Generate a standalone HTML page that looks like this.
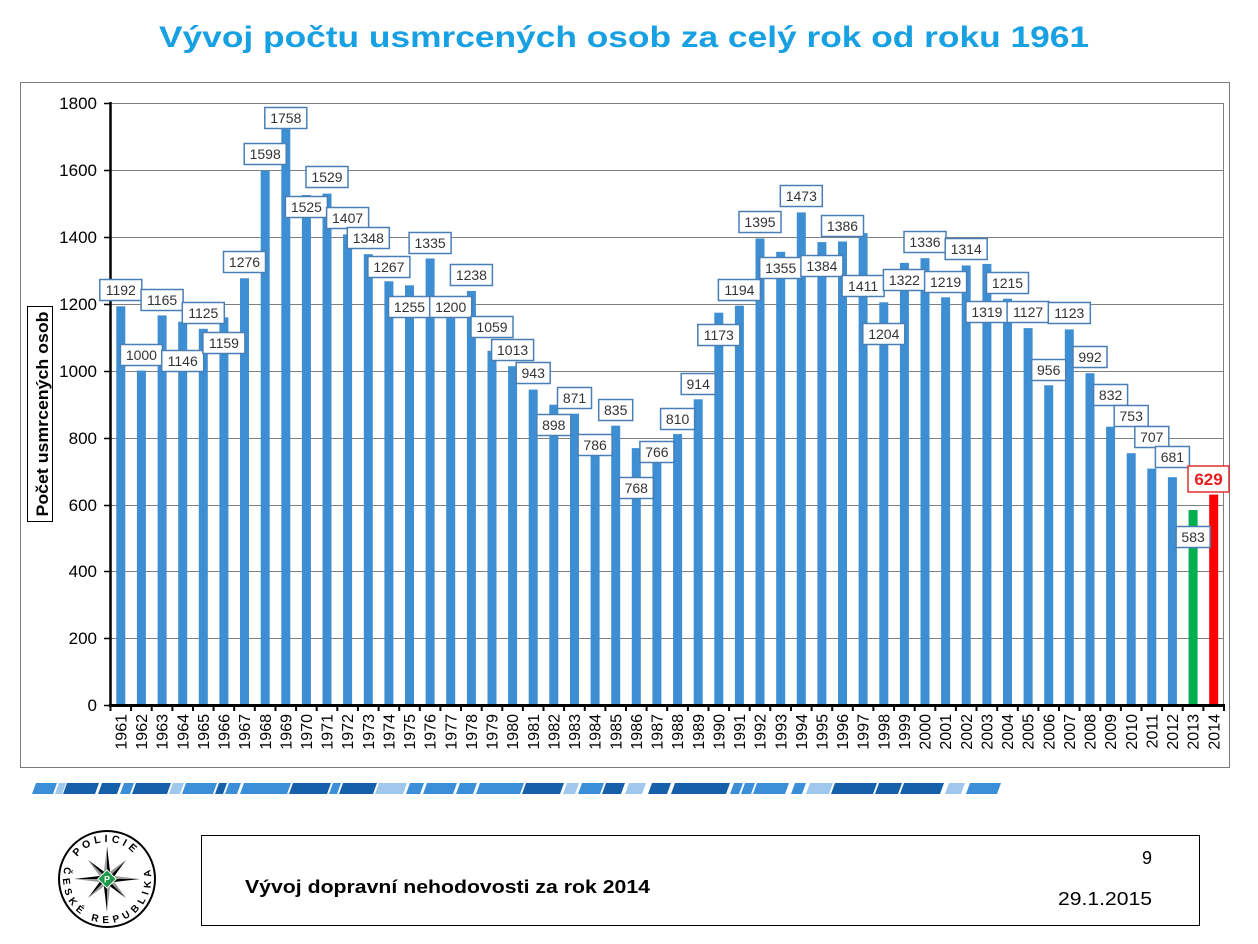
<!DOCTYPE html>
<html>
<head>
<meta charset="utf-8">
<style>
html,body{margin:0;padding:0;background:#fff;}
svg{display:block;}
text{font-family:"Liberation Sans",Arial,sans-serif;}
</style>
</head>
<body>
<svg width="1258" height="944" viewBox="0 0 1258 944" xmlns="http://www.w3.org/2000/svg">
<rect x="0" y="0" width="1258" height="944" fill="#fff"/>

<!-- Title -->
<text x="159" y="47" font-size="30" font-weight="bold" fill="#17a0e2" textLength="930" lengthAdjust="spacingAndGlyphs">Vývoj počtu usmrcených osob za celý rok od roku 1961</text>

<!-- Chart box -->
<rect x="20.5" y="82.5" width="1209" height="685" fill="#fff" stroke="#7a7a7a" stroke-width="1"/>

<!-- gridlines -->
<g stroke="#7f7f7f" stroke-width="1">
<line x1="110" y1="103.5" x2="1224" y2="103.5"/>
<line x1="110" y1="170.5" x2="1224" y2="170.5"/>
<line x1="110" y1="237.5" x2="1224" y2="237.5"/>
<line x1="110" y1="304.5" x2="1224" y2="304.5"/>
<line x1="110" y1="371.5" x2="1224" y2="371.5"/>
<line x1="110" y1="438.5" x2="1224" y2="438.5"/>
<line x1="110" y1="505.5" x2="1224" y2="505.5"/>
<line x1="110" y1="571.5" x2="1224" y2="571.5"/>
<line x1="110" y1="638.5" x2="1224" y2="638.5"/>
<line x1="1223.5" y1="103" x2="1223.5" y2="705"/>
</g>

<!-- Y axis label -->
<rect x="27.5" y="306.5" width="25" height="215" fill="#fff" stroke="#000" stroke-width="1"/>
<text transform="translate(48,414) rotate(-90)" text-anchor="middle" font-size="17" font-weight="bold" fill="#000" textLength="205" lengthAdjust="spacingAndGlyphs">Počet usmrcených osob</text>

<!-- Y tick labels -->
<g font-size="17" fill="#000" text-anchor="end">
<text x="97" y="109">1800</text>
<text x="97" y="176">1600</text>
<text x="97" y="243">1400</text>
<text x="97" y="310">1200</text>
<text x="97" y="377">1000</text>
<text x="97" y="444">800</text>
<text x="97" y="511">600</text>
<text x="97" y="577">400</text>
<text x="97" y="644">200</text>
<text x="97" y="711">0</text>
</g>

<!-- Bars -->
<g fill="#3e8ed3">
<rect x="116.3" y="306.3" width="9" height="398.7"/>
<rect x="136.9" y="370.6" width="9" height="334.4"/>
<rect x="157.6" y="315.4" width="9" height="389.6"/>
<rect x="178.2" y="321.7" width="9" height="383.3"/>
<rect x="198.8" y="328.8" width="9" height="376.2"/>
<rect x="219.4" y="317.4" width="9" height="387.6"/>
<rect x="240.0" y="278.3" width="9" height="426.7"/>
<rect x="260.7" y="170.6" width="9" height="534.4"/>
<rect x="281.3" y="117.0" width="9" height="588.0"/>
<rect x="301.9" y="195.0" width="9" height="510.0"/>
<rect x="322.5" y="193.6" width="9" height="511.4"/>
<rect x="343.1" y="234.4" width="9" height="470.6"/>
<rect x="363.8" y="254.2" width="9" height="450.8"/>
<rect x="384.4" y="281.3" width="9" height="423.7"/>
<rect x="405.0" y="285.3" width="9" height="419.7"/>
<rect x="425.6" y="258.5" width="9" height="446.5"/>
<rect x="446.2" y="303.7" width="9" height="401.3"/>
<rect x="466.9" y="291.0" width="9" height="414.0"/>
<rect x="487.5" y="350.8" width="9" height="354.2"/>
<rect x="508.1" y="366.2" width="9" height="338.8"/>
<rect x="528.7" y="389.6" width="9" height="315.4"/>
<rect x="549.3" y="404.7" width="9" height="300.3"/>
<rect x="570.0" y="413.7" width="9" height="291.3"/>
<rect x="590.6" y="442.1" width="9" height="262.9"/>
<rect x="611.2" y="425.7" width="9" height="279.3"/>
<rect x="631.8" y="448.1" width="9" height="256.9"/>
<rect x="652.4" y="448.8" width="9" height="256.2"/>
<rect x="673.1" y="434.1" width="9" height="270.9"/>
<rect x="693.7" y="399.3" width="9" height="305.7"/>
<rect x="714.3" y="312.7" width="9" height="392.3"/>
<rect x="734.9" y="305.7" width="9" height="399.3"/>
<rect x="755.5" y="238.5" width="9" height="466.5"/>
<rect x="776.2" y="251.8" width="9" height="453.2"/>
<rect x="796.8" y="212.4" width="9" height="492.6"/>
<rect x="817.4" y="242.1" width="9" height="462.9"/>
<rect x="838.0" y="241.5" width="9" height="463.5"/>
<rect x="858.6" y="233.1" width="9" height="471.9"/>
<rect x="879.3" y="302.3" width="9" height="402.7"/>
<rect x="899.9" y="262.9" width="9" height="442.1"/>
<rect x="920.5" y="258.2" width="9" height="446.8"/>
<rect x="941.1" y="297.3" width="9" height="407.7"/>
<rect x="961.7" y="265.5" width="9" height="439.5"/>
<rect x="982.4" y="263.9" width="9" height="441.1"/>
<rect x="1003.0" y="298.7" width="9" height="406.3"/>
<rect x="1023.6" y="328.1" width="9" height="376.9"/>
<rect x="1044.2" y="385.3" width="9" height="319.7"/>
<rect x="1064.8" y="329.4" width="9" height="375.6"/>
<rect x="1085.5" y="373.2" width="9" height="331.8"/>
<rect x="1106.1" y="426.7" width="9" height="278.3"/>
<rect x="1126.7" y="453.2" width="9" height="251.8"/>
<rect x="1147.3" y="468.6" width="9" height="236.4"/>
<rect x="1167.9" y="477.2" width="9" height="227.8"/>
</g>
<rect x="1188.6" y="510.0" width="9" height="195.0" fill="#00b050"/>
<rect x="1209.2" y="494.6" width="9" height="210.4" fill="#ff0000"/>

<!-- Axes -->
<line x1="110.5" y1="102" x2="110.5" y2="707" stroke="#000" stroke-width="2.5"/>
<path d="M104 103.5H110M104 170.5H110M104 237.5H110M104 304.5H110M104 371.5H110M104 438.5H110M104 505.5H110M104 571.5H110M104 638.5H110M104 705.5H110" stroke="#000" stroke-width="1.5"/>
<line x1="109" y1="705.5" x2="1225" y2="705.5" stroke="#000" stroke-width="3"/>
<path stroke="#000" stroke-width="2" d="M110.5 705V711M131.1 705V711M151.7 705V711M172.4 705V711M193.0 705V711M213.6 705V711M234.2 705V711M254.8 705V711M275.5 705V711M296.1 705V711M316.7 705V711M337.3 705V711M357.9 705V711M378.6 705V711M399.2 705V711M419.8 705V711M440.4 705V711M461.0 705V711M481.7 705V711M502.3 705V711M522.9 705V711M543.5 705V711M564.1 705V711M584.8 705V711M605.4 705V711M626.0 705V711M646.6 705V711M667.2 705V711M687.9 705V711M708.5 705V711M729.1 705V711M749.7 705V711M770.3 705V711M791.0 705V711M811.6 705V711M832.2 705V711M852.8 705V711M873.4 705V711M894.1 705V711M914.7 705V711M935.3 705V711M955.9 705V711M976.5 705V711M997.2 705V711M1017.8 705V711M1038.4 705V711M1059.0 705V711M1079.6 705V711M1100.3 705V711M1120.9 705V711M1141.5 705V711M1162.1 705V711M1182.7 705V711M1203.4 705V711M1224.0 705V711"/>

<!-- Year labels -->
<g font-size="16" fill="#000" text-anchor="end">
<text transform="translate(120.8,714) rotate(-90)" dy="0.35em">1961</text>
<text transform="translate(141.4,714) rotate(-90)" dy="0.35em">1962</text>
<text transform="translate(162.1,714) rotate(-90)" dy="0.35em">1963</text>
<text transform="translate(182.7,714) rotate(-90)" dy="0.35em">1964</text>
<text transform="translate(203.3,714) rotate(-90)" dy="0.35em">1965</text>
<text transform="translate(223.9,714) rotate(-90)" dy="0.35em">1966</text>
<text transform="translate(244.5,714) rotate(-90)" dy="0.35em">1967</text>
<text transform="translate(265.2,714) rotate(-90)" dy="0.35em">1968</text>
<text transform="translate(285.8,714) rotate(-90)" dy="0.35em">1969</text>
<text transform="translate(306.4,714) rotate(-90)" dy="0.35em">1970</text>
<text transform="translate(327.0,714) rotate(-90)" dy="0.35em">1971</text>
<text transform="translate(347.6,714) rotate(-90)" dy="0.35em">1972</text>
<text transform="translate(368.3,714) rotate(-90)" dy="0.35em">1973</text>
<text transform="translate(388.9,714) rotate(-90)" dy="0.35em">1974</text>
<text transform="translate(409.5,714) rotate(-90)" dy="0.35em">1975</text>
<text transform="translate(430.1,714) rotate(-90)" dy="0.35em">1976</text>
<text transform="translate(450.7,714) rotate(-90)" dy="0.35em">1977</text>
<text transform="translate(471.4,714) rotate(-90)" dy="0.35em">1978</text>
<text transform="translate(492.0,714) rotate(-90)" dy="0.35em">1979</text>
<text transform="translate(512.6,714) rotate(-90)" dy="0.35em">1980</text>
<text transform="translate(533.2,714) rotate(-90)" dy="0.35em">1981</text>
<text transform="translate(553.8,714) rotate(-90)" dy="0.35em">1982</text>
<text transform="translate(574.5,714) rotate(-90)" dy="0.35em">1983</text>
<text transform="translate(595.1,714) rotate(-90)" dy="0.35em">1984</text>
<text transform="translate(615.7,714) rotate(-90)" dy="0.35em">1985</text>
<text transform="translate(636.3,714) rotate(-90)" dy="0.35em">1986</text>
<text transform="translate(656.9,714) rotate(-90)" dy="0.35em">1987</text>
<text transform="translate(677.6,714) rotate(-90)" dy="0.35em">1988</text>
<text transform="translate(698.2,714) rotate(-90)" dy="0.35em">1989</text>
<text transform="translate(718.8,714) rotate(-90)" dy="0.35em">1990</text>
<text transform="translate(739.4,714) rotate(-90)" dy="0.35em">1991</text>
<text transform="translate(760.0,714) rotate(-90)" dy="0.35em">1992</text>
<text transform="translate(780.7,714) rotate(-90)" dy="0.35em">1993</text>
<text transform="translate(801.3,714) rotate(-90)" dy="0.35em">1994</text>
<text transform="translate(821.9,714) rotate(-90)" dy="0.35em">1995</text>
<text transform="translate(842.5,714) rotate(-90)" dy="0.35em">1996</text>
<text transform="translate(863.1,714) rotate(-90)" dy="0.35em">1997</text>
<text transform="translate(883.8,714) rotate(-90)" dy="0.35em">1998</text>
<text transform="translate(904.4,714) rotate(-90)" dy="0.35em">1999</text>
<text transform="translate(925.0,714) rotate(-90)" dy="0.35em">2000</text>
<text transform="translate(945.6,714) rotate(-90)" dy="0.35em">2001</text>
<text transform="translate(966.2,714) rotate(-90)" dy="0.35em">2002</text>
<text transform="translate(986.9,714) rotate(-90)" dy="0.35em">2003</text>
<text transform="translate(1007.5,714) rotate(-90)" dy="0.35em">2004</text>
<text transform="translate(1028.1,714) rotate(-90)" dy="0.35em">2005</text>
<text transform="translate(1048.7,714) rotate(-90)" dy="0.35em">2006</text>
<text transform="translate(1069.3,714) rotate(-90)" dy="0.35em">2007</text>
<text transform="translate(1090.0,714) rotate(-90)" dy="0.35em">2008</text>
<text transform="translate(1110.6,714) rotate(-90)" dy="0.35em">2009</text>
<text transform="translate(1131.2,714) rotate(-90)" dy="0.35em">2010</text>
<text transform="translate(1151.8,714) rotate(-90)" dy="0.35em">2011</text>
<text transform="translate(1172.4,714) rotate(-90)" dy="0.35em">2012</text>
<text transform="translate(1193.1,714) rotate(-90)" dy="0.35em">2013</text>
<text transform="translate(1213.7,714) rotate(-90)" dy="0.35em">2014</text>
</g>

<!-- Data label boxes -->
<g fill="#fff" stroke="#4a7fb5" stroke-width="1.5">
<rect x="99.8" y="279.5" width="42" height="21"/>
<rect x="120.4" y="344.5" width="42" height="21"/>
<rect x="141.1" y="289.5" width="42" height="21"/>
<rect x="161.7" y="350.5" width="42" height="21"/>
<rect x="182.3" y="302.5" width="42" height="21"/>
<rect x="202.9" y="332.5" width="42" height="21"/>
<rect x="223.5" y="251.5" width="42" height="21"/>
<rect x="244.2" y="143.5" width="42" height="21"/>
<rect x="264.8" y="107.5" width="42" height="21"/>
<rect x="285.4" y="196.5" width="42" height="21"/>
<rect x="306.0" y="166.5" width="42" height="21"/>
<rect x="326.6" y="207.5" width="42" height="21"/>
<rect x="347.3" y="227.5" width="42" height="21"/>
<rect x="367.9" y="256.5" width="42" height="21"/>
<rect x="388.5" y="296.5" width="42" height="21"/>
<rect x="409.1" y="232.5" width="42" height="21"/>
<rect x="429.7" y="296.5" width="42" height="21"/>
<rect x="450.4" y="264.5" width="42" height="21"/>
<rect x="471.0" y="316.5" width="42" height="21"/>
<rect x="491.6" y="339.5" width="42" height="21"/>
<rect x="516.2" y="362.5" width="34" height="21"/>
<rect x="536.8" y="414.5" width="34" height="21"/>
<rect x="557.5" y="387.5" width="34" height="21"/>
<rect x="578.1" y="434.5" width="34" height="21"/>
<rect x="598.7" y="399.5" width="34" height="21"/>
<rect x="619.3" y="477.5" width="34" height="21"/>
<rect x="639.9" y="441.5" width="34" height="21"/>
<rect x="660.6" y="408.5" width="34" height="21"/>
<rect x="681.2" y="373.5" width="34" height="21"/>
<rect x="697.8" y="324.5" width="42" height="21"/>
<rect x="718.4" y="279.5" width="42" height="21"/>
<rect x="739.0" y="211.5" width="42" height="21"/>
<rect x="759.7" y="257.5" width="42" height="21"/>
<rect x="780.3" y="185.5" width="42" height="21"/>
<rect x="800.9" y="255.5" width="42" height="21"/>
<rect x="821.5" y="215.5" width="42" height="21"/>
<rect x="842.1" y="275.5" width="42" height="21"/>
<rect x="862.8" y="323.5" width="42" height="21"/>
<rect x="883.4" y="269.5" width="42" height="21"/>
<rect x="904.0" y="231.5" width="42" height="21"/>
<rect x="924.6" y="271.5" width="42" height="21"/>
<rect x="945.2" y="238.5" width="42" height="21"/>
<rect x="965.9" y="301.5" width="42" height="21"/>
<rect x="986.5" y="272.5" width="42" height="21"/>
<rect x="1007.1" y="301.5" width="42" height="21"/>
<rect x="1031.7" y="359.5" width="34" height="21"/>
<rect x="1048.3" y="302.5" width="42" height="21"/>
<rect x="1073.0" y="346.5" width="34" height="21"/>
<rect x="1093.6" y="384.5" width="34" height="21"/>
<rect x="1114.2" y="405.5" width="34" height="21"/>
<rect x="1134.8" y="426.5" width="34" height="21"/>
<rect x="1155.4" y="446.5" width="34" height="21"/>
<rect x="1176.1" y="526.5" width="34" height="21"/>
</g>
<rect x="1188" y="466" width="41" height="26" fill="#fff" stroke="#e03030" stroke-width="1.5"/>

<g font-size="14" fill="#333" text-anchor="middle">
<text x="120.8" y="295">1192</text>
<text x="141.4" y="360">1000</text>
<text x="162.1" y="305">1165</text>
<text x="182.7" y="366">1146</text>
<text x="203.3" y="318">1125</text>
<text x="223.9" y="348">1159</text>
<text x="244.5" y="267">1276</text>
<text x="265.2" y="159">1598</text>
<text x="285.8" y="123">1758</text>
<text x="306.4" y="212">1525</text>
<text x="327.0" y="182">1529</text>
<text x="347.6" y="223">1407</text>
<text x="368.3" y="243">1348</text>
<text x="388.9" y="272">1267</text>
<text x="409.5" y="312">1255</text>
<text x="430.1" y="248">1335</text>
<text x="450.7" y="312">1200</text>
<text x="471.4" y="280">1238</text>
<text x="492.0" y="332">1059</text>
<text x="512.6" y="355">1013</text>
<text x="533.2" y="378">943</text>
<text x="553.8" y="430">898</text>
<text x="574.5" y="403">871</text>
<text x="595.1" y="450">786</text>
<text x="615.7" y="415">835</text>
<text x="636.3" y="493">768</text>
<text x="656.9" y="457">766</text>
<text x="677.6" y="424">810</text>
<text x="698.2" y="389">914</text>
<text x="718.8" y="340">1173</text>
<text x="739.4" y="295">1194</text>
<text x="760.0" y="227">1395</text>
<text x="780.7" y="273">1355</text>
<text x="801.3" y="201">1473</text>
<text x="821.9" y="271">1384</text>
<text x="842.5" y="231">1386</text>
<text x="863.1" y="291">1411</text>
<text x="883.8" y="339">1204</text>
<text x="904.4" y="285">1322</text>
<text x="925.0" y="247">1336</text>
<text x="945.6" y="287">1219</text>
<text x="966.2" y="254">1314</text>
<text x="986.9" y="317">1319</text>
<text x="1007.5" y="288">1215</text>
<text x="1028.1" y="317">1127</text>
<text x="1048.7" y="375">956</text>
<text x="1069.3" y="318">1123</text>
<text x="1090.0" y="362">992</text>
<text x="1110.6" y="400">832</text>
<text x="1131.2" y="421">753</text>
<text x="1151.8" y="442">707</text>
<text x="1172.4" y="462">681</text>
<text x="1193.1" y="542">583</text>
</g>
<text x="1208.5" y="485" font-size="17" font-weight="bold" fill="#e81e1e" text-anchor="middle">629</text>

<!-- Striped banner -->
<g>
<polygon points="36,783 57,783 53,794 32,794" fill="#3b8fd8"/>
<polygon points="59,783 66,783 62,794 55,794" fill="#9fc8ec"/>
<polygon points="67,783 99,783 95,794 63,794" fill="#1560a8"/>
<polygon points="102,783 121,783 117,794 98,794" fill="#1560a8"/>
<polygon points="124,783 134,783 130,794 120,794" fill="#3b8fd8"/>
<polygon points="136,783 171,783 167,794 132,794" fill="#1560a8"/>
<polygon points="173,783 184,783 180,794 169,794" fill="#9fc8ec"/>
<polygon points="186,783 217,783 213,794 182,794" fill="#3b8fd8"/>
<polygon points="219,783 227,783 223,794 215,794" fill="#1560a8"/>
<polygon points="229,783 241,783 237,794 225,794" fill="#3b8fd8"/>
<polygon points="244,783 291,783 287,794 240,794" fill="#3b8fd8"/>
<polygon points="293,783 331,783 327,794 289,794" fill="#1560a8"/>
<polygon points="333,783 341,783 337,794 329,794" fill="#3b8fd8"/>
<polygon points="343,783 377,783 373,794 339,794" fill="#1560a8"/>
<polygon points="379,783 407,783 403,794 375,794" fill="#9fc8ec"/>
<polygon points="410,783 424,783 420,794 406,794" fill="#3b8fd8"/>
<polygon points="427,783 457,783 453,794 423,794" fill="#3b8fd8"/>
<polygon points="460,783 477,783 473,794 456,794" fill="#3b8fd8"/>
<polygon points="480,783 524,783 520,794 476,794" fill="#3b8fd8"/>
<polygon points="526,783 564,783 560,794 522,794" fill="#1560a8"/>
<polygon points="567,783 579,783 575,794 563,794" fill="#9fc8ec"/>
<polygon points="582,783 604,783 600,794 578,794" fill="#3b8fd8"/>
<polygon points="606,783 625,783 621,794 602,794" fill="#1560a8"/>
<polygon points="629,783 646,783 642,794 625,794" fill="#9fc8ec"/>
<polygon points="652,783 671,783 667,794 648,794" fill="#1560a8"/>
<polygon points="675,783 730,783 726,794 671,794" fill="#1560a8"/>
<polygon points="734,783 743,783 739,794 730,794" fill="#3b8fd8"/>
<polygon points="745,783 755,783 751,794 741,794" fill="#3b8fd8"/>
<polygon points="757,783 789,783 785,794 753,794" fill="#3b8fd8"/>
<polygon points="795,783 806,783 802,794 791,794" fill="#3b8fd8"/>
<polygon points="810,783 833,783 829,794 806,794" fill="#9fc8ec"/>
<polygon points="835,783 877,783 873,794 831,794" fill="#1560a8"/>
<polygon points="879,783 902,783 898,794 875,794" fill="#1560a8"/>
<polygon points="904,783 944,783 940,794 900,794" fill="#1560a8"/>
<polygon points="949,783 965,783 961,794 945,794" fill="#9fc8ec"/>
<polygon points="970,783 1001,783 997,794 966,794" fill="#3b8fd8"/>
</g>

<!-- Logo -->
<g>
<circle cx="107" cy="879" r="48" fill="#fff" stroke="#000" stroke-width="2"/>
<defs>
<path id="topArc" d="M75,860.5 A37,37 0 0,1 139,860.5"/>
<path id="botArc" d="M65.7,864 A44,44 0 1,0 140.7,850.7"/>
</defs>
<text font-size="10.5" font-weight="bold" fill="#000" letter-spacing="3.5"><textPath href="#topArc" startOffset="4">POLICIE</textPath></text>
<text font-size="10" font-weight="bold" fill="#000" letter-spacing="4.6"><textPath href="#botArc" startOffset="3">ČESKÉ REPUBLIKA</textPath></text>
<g transform="translate(107,879)">
<g id="pt">
<polygon points="0,0 0,-33 3.06,-7.39" fill="#000"/>
<polygon points="0,0 0,-33 -3.06,-7.39" fill="#9a9a9a"/>
</g>
<g transform="rotate(90)"><polygon points="0,0 0,-33 3.06,-7.39" fill="#000"/><polygon points="0,0 0,-33 -3.06,-7.39" fill="#9a9a9a"/></g>
<g transform="rotate(180)"><polygon points="0,0 0,-33 3.06,-7.39" fill="#000"/><polygon points="0,0 0,-33 -3.06,-7.39" fill="#9a9a9a"/></g>
<g transform="rotate(270)"><polygon points="0,0 0,-33 3.06,-7.39" fill="#000"/><polygon points="0,0 0,-33 -3.06,-7.39" fill="#9a9a9a"/></g>
<g transform="rotate(45)"><polygon points="0,0 0,-27 3.06,-7.39" fill="#000"/><polygon points="0,0 0,-27 -3.06,-7.39" fill="#9a9a9a"/></g>
<g transform="rotate(135)"><polygon points="0,0 0,-27 3.06,-7.39" fill="#000"/><polygon points="0,0 0,-27 -3.06,-7.39" fill="#9a9a9a"/></g>
<g transform="rotate(225)"><polygon points="0,0 0,-27 3.06,-7.39" fill="#000"/><polygon points="0,0 0,-27 -3.06,-7.39" fill="#9a9a9a"/></g>
<g transform="rotate(315)"><polygon points="0,0 0,-27 3.06,-7.39" fill="#000"/><polygon points="0,0 0,-27 -3.06,-7.39" fill="#9a9a9a"/></g>
<rect x="-6.5" y="-6.5" width="13" height="13" transform="rotate(45)" fill="#1c9a4c" stroke="#fff" stroke-width="1"/>
<text x="0" y="3.5" font-size="9" font-weight="bold" fill="#fff" text-anchor="middle">P</text>
</g>
</g>

<!-- Footer box -->
<rect x="201.5" y="835.5" width="998" height="90" fill="#fff" stroke="#000" stroke-width="1"/>
<text x="245" y="893" font-size="18" font-weight="bold" fill="#000" textLength="405" lengthAdjust="spacingAndGlyphs">Vývoj dopravní nehodovosti za rok 2014</text>
<text x="1152" y="864" font-size="18" fill="#000" text-anchor="end">9</text>
<text x="1152" y="905" font-size="18" fill="#000" text-anchor="end" textLength="94" lengthAdjust="spacingAndGlyphs">29.1.2015</text>
</svg>
</body>
</html>
